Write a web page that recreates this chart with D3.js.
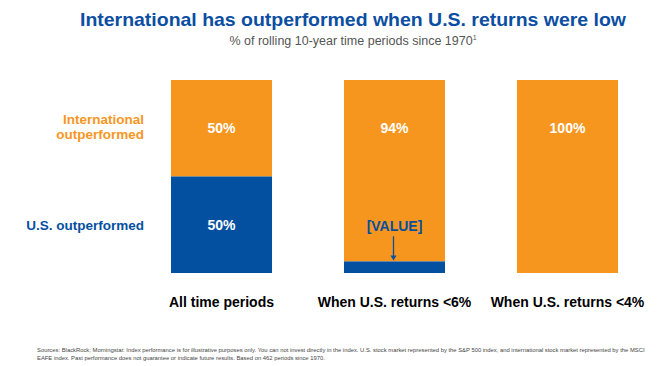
<!DOCTYPE html>
<html><head><meta charset="utf-8">
<script src="https://cdn.jsdelivr.net/npm/d3@7"></script>
<style>body{margin:0;background:#fff}svg{display:block}text{font-family:"Liberation Sans",Arial,sans-serif}</style>
</head><body><svg id="c" width="659" height="366"></svg>
<script>
const categories = ["All time periods", "When U.S. returns <6%", "When U.S. returns <4%"];
const usOutperformed = [50, 6, 0];
const intlOutperformed = [50, 94, 100];
const intlLabels = ["50%", "94%", "100%"];
const usLabels = ["50%", "[VALUE]", ""];
const seriesNames = [["International", "outperformed"], ["U.S. outperformed"]];
const title = "International  has outperformed  when U.S. returns were low";
const subtitle = "% of rolling 10-year time periods since 1970";
const footnotes = [
 "Sources:  BlackRock; Morningstar.  Index performance  is for illustrative purposes  only. You can not invest directly in the index. U.S. stock market represented  by the S&P 500 index, and international  stock market represented  by the MSCI",
 "EAFE index. Past performance  does  not guarantee  or indicate future results.  Based on 462 periods  since 1970."
];
const ORANGE = "#F7961F", BLUE = "#0450A0";

const svg = d3.select("#c");
const x = d3.scaleBand().domain(categories).range([171, 618]).paddingInner(0.416).paddingOuter(0);
const y = d3.scaleLinear().domain([0, 100]).range([273, 80]);

svg.append("text").attr("x", 353).attr("y", 26).attr("text-anchor", "middle")
  .attr("font-size", 19).attr("font-weight", "bold").attr("fill", "#0B4EA2")
  .attr("textLength", 546).attr("lengthAdjust", "spacingAndGlyphs").text(title);
const st = svg.append("text").attr("x", 353).attr("y", 45).attr("text-anchor", "middle")
  .attr("font-size", 12.5).attr("fill", "#555");
st.append("tspan").text(subtitle);
st.append("tspan").attr("font-size", 7).attr("dy", -5).text("1");

const g = svg.append("g");
categories.forEach((c, i) => {
  const x0 = x(c), w = x.bandwidth();
  g.append("rect").attr("x", x0).attr("width", w)
    .attr("y", y(usOutperformed[i] + intlOutperformed[i])).attr("height", y(usOutperformed[i]) - y(usOutperformed[i] + intlOutperformed[i]))
    .attr("fill", ORANGE);
  if (usOutperformed[i] > 0)
    g.append("rect").attr("x", x0).attr("width", w)
      .attr("y", y(usOutperformed[i])).attr("height", y(0) - y(usOutperformed[i])).attr("fill", BLUE);
  g.append("text").attr("x", x0 + w / 2).attr("y", y(75)).attr("dy", "0.36em").attr("text-anchor", "middle")
    .attr("font-size", 14).attr("font-weight", "bold").attr("fill", "#fff").text(intlLabels[i]);
  if (usLabels[i] && usOutperformed[i] >= 25) {
    g.append("text").attr("x", x0 + w / 2).attr("y", y(25)).attr("dy", "0.36em").attr("text-anchor", "middle")
      .attr("font-size", 14).attr("font-weight", "bold").attr("fill", "#fff").text(usLabels[i]);
  } else if (usLabels[i]) {
    g.append("text").attr("x", x0 + w / 2).attr("y", y(24.5)).attr("dy", "0.36em").attr("text-anchor", "middle")
      .attr("font-size", 14).attr("font-weight", "bold").attr("fill", BLUE).text(usLabels[i]);
    const ax = x0 + w / 2 - 1;
    g.append("line").attr("x1", ax).attr("x2", ax).attr("y1", y(19)).attr("y2", y(usOutperformed[i]) - 5)
      .attr("stroke", BLUE).attr("stroke-width", 1.3);
    g.append("path").attr("d", `M${ax - 3},${y(usOutperformed[i]) - 6} L${ax + 3},${y(usOutperformed[i]) - 6} L${ax},${y(usOutperformed[i]) - 1} Z`).attr("fill", BLUE);
  }
  g.append("text").attr("x", x0 + w / 2).attr("y", 307).attr("text-anchor", "middle")
    .attr("font-size", 14).attr("font-weight", "bold").attr("fill", "#000").text(c);
});

// series labels beside first bar
const lx = x(categories[0]) - 27;
const t1 = svg.append("text").attr("x", lx).attr("text-anchor", "end").attr("font-size", 13.5)
  .attr("font-weight", "bold").attr("fill", ORANGE);
seriesNames[0].forEach((s, k) => t1.append("tspan").attr("x", lx).attr("y", y(75) - 9 + k * 15).attr("dy", "0.36em").text(s));
svg.append("text").attr("x", lx).attr("y", y(25)).attr("dy", "0.36em").attr("text-anchor", "end").attr("font-size", 13.5)
  .attr("font-weight", "bold").attr("fill", BLUE).text(seriesNames[1][0]);

svg.append("text").attr("x", 37).attr("y", 352).attr("font-size", 5.85).attr("fill", "#444").text(footnotes[0]);
svg.append("text").attr("x", 37).attr("y", 360).attr("font-size", 5.85).attr("fill", "#444").text(footnotes[1]);
</script></body></html>
